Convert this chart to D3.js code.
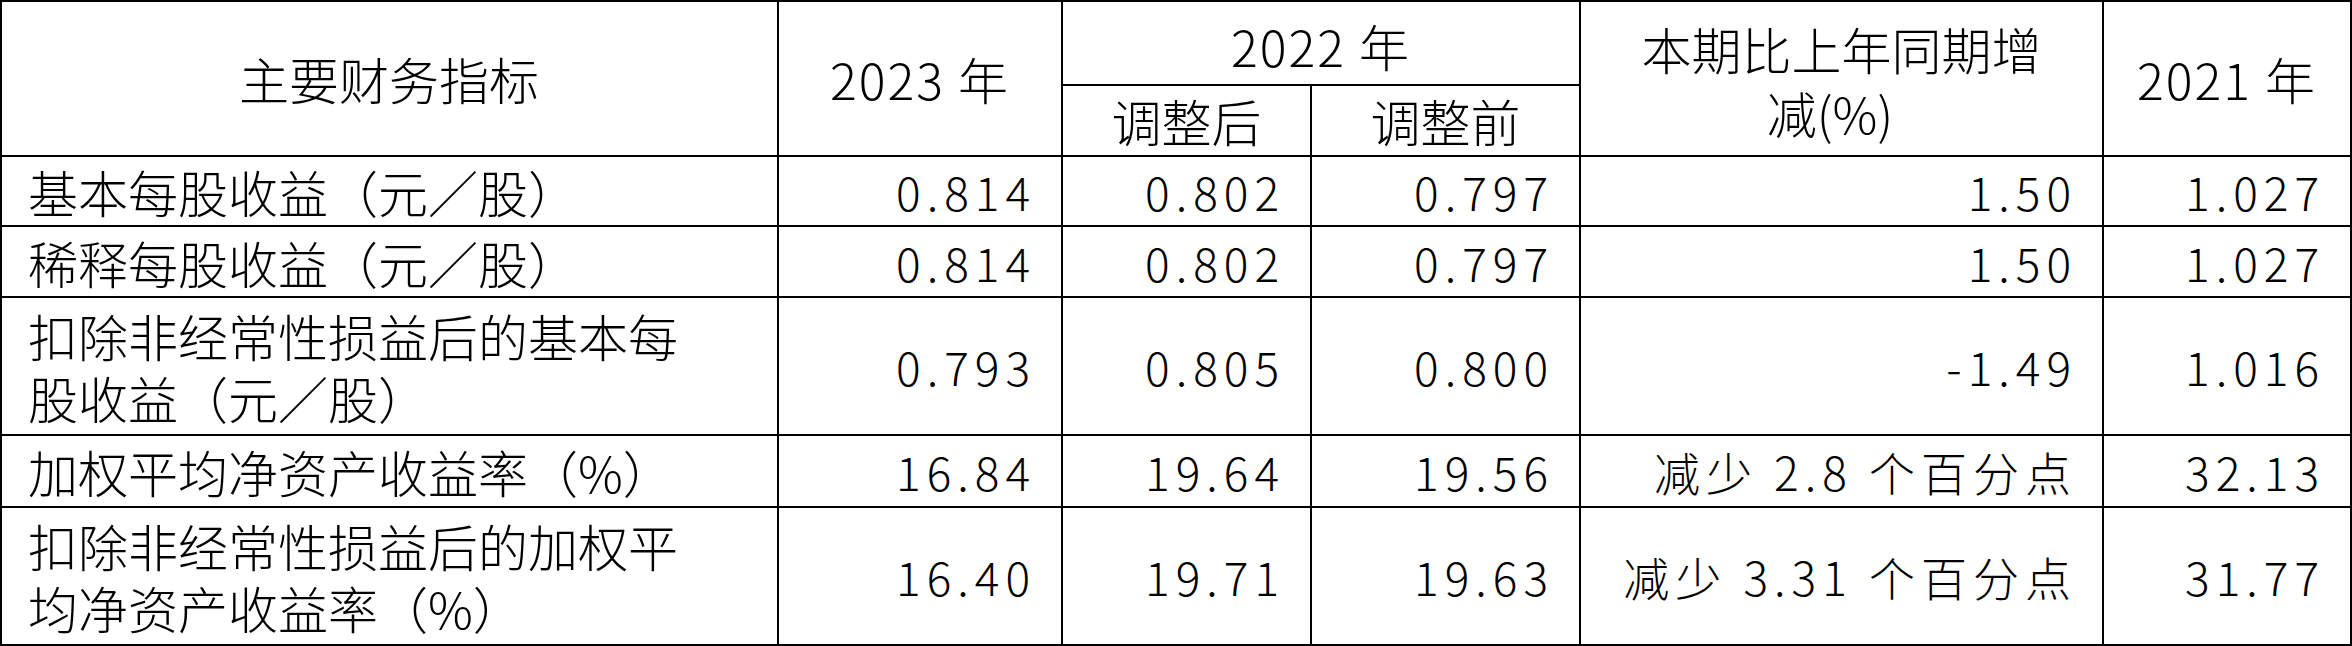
<!DOCTYPE html>
<html><head><meta charset="utf-8">
<script src="https://cdn.jsdelivr.net/npm/d3@7"></script>
<style>body{margin:0;background:#fff}</style>
</head><body><svg width="2352" height="646"></svg>
<script>
// 指标名称（多行用数组）
const indicators = [
  ["基本每股收益（元／股）"],
  ["稀释每股收益（元／股）"],
  ["扣除非经常性损益后的基本每", "股收益（元／股）"],
  ["加权平均净资产收益率（%）"],
  ["扣除非经常性损益后的加权平", "均净资产收益率（%）"]
];
const v2023 = ["0.814", "0.814", "0.793", "16.84", "16.40"];
const v2022adj = ["0.802", "0.802", "0.805", "19.64", "19.71"];
const v2022raw = ["0.797", "0.797", "0.800", "19.56", "19.63"];
const change = ["1.50", "1.50", "-1.49", "减少 2.8 个百分点", "减少 3.31 个百分点"];
const v2021 = ["1.027", "1.027", "1.016", "32.13", "31.77"];

const colEdges = [0, 778, 1062, 1311, 1580, 2103, 2351];
const rowEdges = [0, 85, 156, 226, 297, 435, 507, 645];
const font = "'Noto Sans CJK SC', sans-serif";
const fs = 50;

const svg = d3.select("svg");
const g = svg.append("g");

function line(x1, y1, x2, y2) {
  g.append("line").attr("x1", x1).attr("y1", y1).attr("x2", x2).attr("y2", y2)
    .attr("stroke", "#000").attr("stroke-width", 2);
}
function text(x, y, s, anchor, size, ls) {
  g.append("text").attr("x", x).attr("y", y).attr("text-anchor", anchor || "middle")
    .attr("dominant-baseline", "central").attr("font-family", font)
    .attr("font-size", size || fs).attr("letter-spacing", ls || 0)
    .attr("font-weight", 300).attr("fill", "#000").text(s);
}

// 外框和横线
line(1, 0, 1, 646); line(2351, 0, 2351, 646);
line(0, 1, 2352, 1); line(0, 645, 2352, 645);
rowEdges.slice(2, -1).forEach(y => line(0, y, 2352, y));
line(colEdges[2], rowEdges[1], colEdges[4], rowEdges[1]);
colEdges.slice(1, -1).forEach((x, i) => {
  const top = (i + 1 === 3) ? rowEdges[1] : 0;
  line(x, top, x, 646);
});

// 表头
const hMid = rowEdges[2] / 2;
text((colEdges[0] + colEdges[1]) / 2, hMid, "主要财务指标");
text((colEdges[1] + colEdges[2]) / 2, hMid, "2023 年", "middle", fs, 2);
text((colEdges[2] + colEdges[4]) / 2, 45, "2022 年", "middle", fs, 2);
text((colEdges[2] + colEdges[3]) / 2, 120, "调整后");
text((colEdges[3] + colEdges[4]) / 2, 120, "调整前");
text((colEdges[4] + colEdges[5]) / 2, 48, "本期比上年同期增");
text(1830, 112, "减(%)");
text((colEdges[5] + colEdges[6]) / 2, hMid, "2021 年", "middle", fs, 2);

// 数据行
const cols = [v2023, v2022adj, v2022raw, change, v2021];
indicators.forEach((lab, r) => {
  const y0 = rowEdges[r + 2], y1 = rowEdges[r + 3], mid = (y0 + y1) / 2;
  const lh = 62;
  lab.forEach((s, k) => text(28, mid + (k - (lab.length - 1) / 2) * lh, s, "start"));
  cols.forEach((c, j) => {
    text(colEdges[j + 2] - 26, mid, c[r], "end", 46, 6);
  });
});
</script></body></html>
